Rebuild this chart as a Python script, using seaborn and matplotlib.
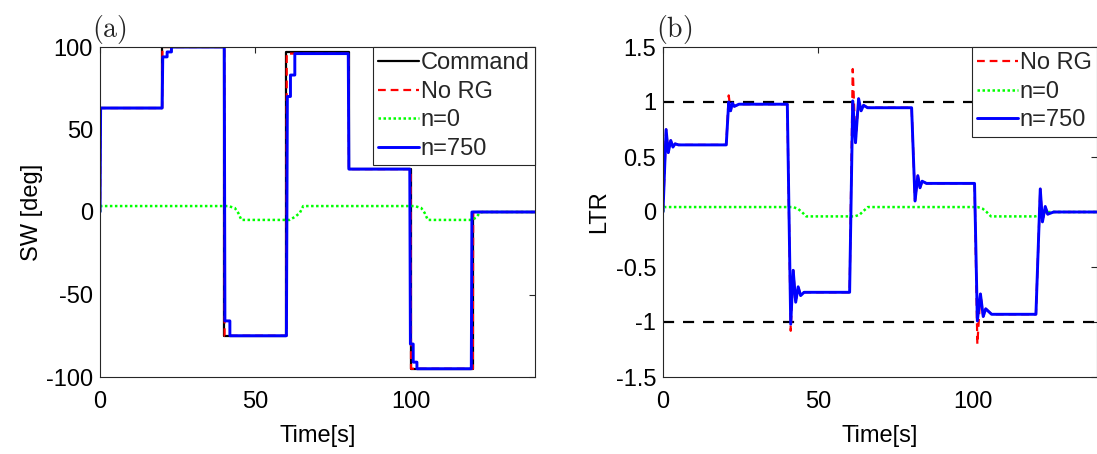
import numpy as np
import pandas as pd
import matplotlib
matplotlib.use("Agg")
import matplotlib.pyplot as plt
import seaborn as sns

# ---------------- data ----------------
# Panel (a): steering wheel angle [deg]
cmd_t = [0, 0, 20, 20, 40, 40, 60, 60, 80, 80, 100, 100, 120, 120, 140]
cmd_v = [0, 63, 63, 100, 100, -75, -75, 97, 97, 26, 26, -95, -95, 0, 0]

norg_a_t = [0, 0.1, 20, 20.1, 40, 40.1, 60, 60.1, 80, 80.1, 100, 100.1, 120, 120.1, 140]
norg_a_v = [0, 63, 63, 100, 100, -75, -75, 96, 96, 26, 26, -95, -95, 0, 0]

n0_a_t = [0, 0.3, 41.3, 43.4, 44.5, 45.5, 61.0, 62.7, 64.3, 65.4,
          101.3, 103.4, 104.5, 105.5, 119.5, 121.0, 122.0, 123.0, 140]
n0_a_v = [0, 3.6, 3.6, 2.4, -0.6, -4.8, -4.8, -3.0, -0.6, 3.6,
          3.6, 2.4, -0.6, -4.8, -4.8, -3.5, -1.0, 0, 0]

n750_a_t = [0, 0.2, 20, 20.2, 21.6, 21.6, 23.0, 23.0, 40, 40.2, 41.8, 41.8,
            60, 60.3, 61.3, 61.3, 62.7, 62.7, 79.9, 80.1, 99.7, 99.9,
            100.8, 100.8, 102.0, 102.0, 119.5, 119.7, 140]
n750_a_v = [0, 63, 63, 94, 94, 97, 97, 100, 100, -66, -66, -75,
            -75, 70, 70, 83, 83, 96, 96, 26, 26, -80,
            -80, -91, -91, -95, -95, 0, 0]

# Panel (b): load transfer ratio
n750_b_t = [0, 1.0, 1.7, 2.5, 3.2, 3.9, 5.0, 20.4, 21.2, 21.8, 22.4, 23.0, 24.5,
            40.1, 41.2, 42.0, 42.8, 43.6, 44.4, 45.5, 60.2, 61.2, 62.1, 63.1, 63.9,
            64.7, 66.0, 80.2, 81.3, 82.2, 82.9, 83.6, 85.0, 100.5, 101.4, 102.4,
            103.3, 104.1, 106.0, 120.3, 121.7, 122.4, 123.3, 124.1, 126.0, 140]
n750_b_v = [0, 0.75, 0.54, 0.65, 0.59, 0.62, 0.61, 0.61, 1.0, 0.92, 0.99, 0.96, 0.98,
            0.98, -1.02, -0.53, -0.82, -0.68, -0.76, -0.73, -0.73, 1.01, 0.63, 1.03, 0.92,
            0.97, 0.948, 0.948, 0.10, 0.33, 0.22, 0.28, 0.26, 0.26, -0.99, -0.745,
            -0.95, -0.88, -0.93, -0.93, 0.21, -0.09, 0.05, -0.02, 0, 0]

norg_b_t = n750_b_t
norg_b_v = [0, 0.75, 0.54, 0.65, 0.59, 0.62, 0.61, 0.61, 1.06, 0.92, 0.99, 0.96, 0.98,
            0.98, -1.08, -0.53, -0.82, -0.68, -0.76, -0.73, -0.73, 1.30, 0.63, 1.03, 0.92,
            0.97, 0.948, 0.948, 0.10, 0.33, 0.22, 0.28, 0.26, 0.26, -1.20, -0.745,
            -0.95, -0.88, -0.93, -0.93, 0.21, -0.09, 0.05, -0.02, 0, 0]

n0_b_t = [0, 0.3, 41.9, 43.5, 44.8, 46.2, 61.8, 63.4, 64.7, 66.1,
          101.5, 103.1, 104.4, 105.8, 120.0, 121.5, 122.5, 123.5, 140]
n0_b_v = [0, 0.045, 0.045, 0.03, 0.0, -0.04, -0.04, -0.025, 0.01, 0.045,
          0.045, 0.03, 0.0, -0.04, -0.04, -0.03, -0.01, 0, 0]

ltr_limits = [1, -1]
lim_t = [0, 140]

xticks = [0, 50, 100]
yticks_a = [-100, -50, 0, 50, 100]
yticks_b = [-1.5, -1, -0.5, 0, 0.5, 1, 1.5]
yticklabels_b = ["-1.5", "-1", "-0.5", "0", "0.5", "1", "1.5"]
yticklabels_a = ["-100", "-50", "0", "50", "100"]

# ---------------- style ----------------
sns.set_theme(style="white")
plt.rcParams["font.family"] = ["Liberation Sans", "DejaVu Sans"]
plt.rcParams["mathtext.fontset"] = "cm"
plt.rcParams["axes.unicode_minus"] = False

FS = 17
fig = plt.figure(figsize=(10.97, 4.54), dpi=100)
ax_a = fig.add_axes([100/1097, 77/454, 435/1097, 330/454])
ax_b = fig.add_axes([663/1097, 77/454, 434/1097, 330/454])


def draw(ax, t, v, color, lw, label, dashes=None):
    df = pd.DataFrame({"t": t, "v": v})
    sns.lineplot(data=df, x="t", y="v", ax=ax, sort=False, estimator=None,
                 color=color, linewidth=lw, label=label)
    line = ax.lines[-1]
    if dashes is not None:
        line.set_dashes(dashes)
    return line


# Panel (a)
draw(ax_a, cmd_t, cmd_v, "black", 1.6, "Command")
draw(ax_a, norg_a_t, norg_a_v, "red", 1.6, "No RG", dashes=(3.5, 2.2))
draw(ax_a, n0_a_t, n0_a_v, (0, 1, 0), 1.8, "n=0", dashes=(1, 1))
draw(ax_a, n750_a_t, n750_a_v, "blue", 2.1, "n=750")

# Panel (b)
for lv in ltr_limits:
    dfl = pd.DataFrame({"t": lim_t, "v": [lv, lv]})
    sns.lineplot(data=dfl, x="t", y="v", ax=ax_b, color="black", linewidth=1.6)
    ax_b.lines[-1].set_dashes((5, 4))
draw(ax_b, norg_b_t, norg_b_v, "red", 1.6, "No RG", dashes=(3.5, 2.2))
draw(ax_b, n0_b_t, n0_b_v, (0, 1, 0), 1.8, "n=0", dashes=(1, 1))
draw(ax_b, n750_b_t, n750_b_v, "blue", 2.1, "n=750")

for ax in (ax_a, ax_b):
    ax.set_xlim(0, 140)
    ax.set_xticks(xticks)
    ax.set_xticklabels([str(x) for x in xticks])
    ax.set_xlabel("Time[s]", fontsize=FS, labelpad=9)
    ax.tick_params(direction="in", length=4, width=0.8, top=True, right=True,
                   labelsize=FS, colors="#262626", pad=5)
    ax.tick_params(axis="x", pad=10)
    for s in ax.spines.values():
        s.set_color("#262626")
        s.set_linewidth(0.8)
    ax.set_facecolor("white")

ax_a.set_ylim(-100, 100)
ax_a.set_yticks(yticks_a)
ax_a.set_yticklabels(yticklabels_a)
ax_a.set_ylabel("SW [deg]", fontsize=FS, labelpad=2)

ax_b.set_ylim(-1.5, 1.5)
ax_b.set_yticks(yticks_b)
ax_b.set_yticklabels(yticklabels_b)
ax_b.set_ylabel("LTR", fontsize=FS, labelpad=4)

for ax in (ax_a, ax_b):
    for lab in ax.get_xticklabels() + ax.get_yticklabels():
        lab.set_color("black")
    ax.xaxis.label.set_color("black")
    ax.yaxis.label.set_color("black")

leg_kw = dict(loc="upper right", borderaxespad=0, fancybox=False,
              edgecolor="#262626", framealpha=1, handlelength=1.7,
              handletextpad=0.1, labelspacing=0.28, borderpad=0.22,
              fontsize=FS)
ax_a.legend(**leg_kw).get_frame().set_linewidth(0.8)
ax_b.legend(**leg_kw).get_frame().set_linewidth(0.8)

fig.text(109/1097, 1 - 29/454, r"$\mathrm{(a)}$", fontsize=20, ha="center", va="center")
fig.text(674/1097, 1 - 29/454, r"$\mathrm{(b)}$", fontsize=20, ha="center", va="center")

fig.savefig("out.png", dpi=100, facecolor="white")
